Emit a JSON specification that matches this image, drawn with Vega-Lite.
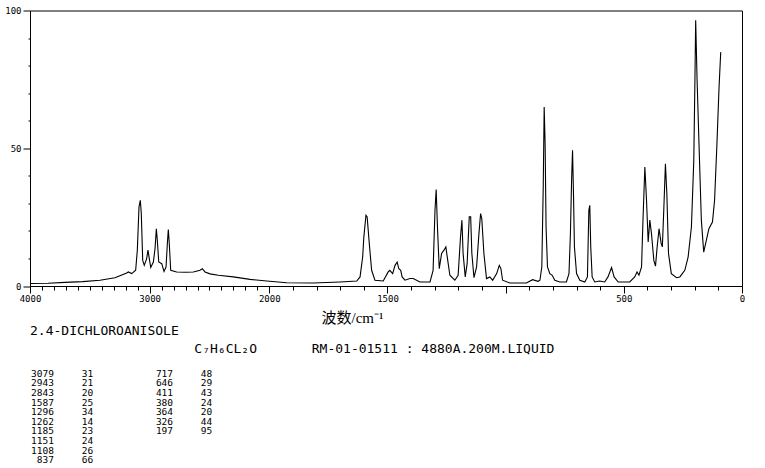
{
  "$schema": "https://vega.github.io/schema/vega-lite/v6.json",
  "background": "white",
  "padding": {"left": 4, "top": 5.5, "right": 5, "bottom": 0},
  "bounds": "flush",
  "spacing": 80.5,
  "config": {
    "view": {"stroke": "black", "strokeWidth": 1},
    "axis": {"grid": false, "domainColor": "black", "tickColor": "black", "labelColor": "black", "titleColor": "black", "labelFont": "DejaVu Sans Mono", "labelFontSize": 9, "labelFlush": false, "labelOverlap": false, "domainWidth": 1, "tickWidth": 1}
  },
  "vconcat": [
    {
      "width": 712,
      "height": 275.5,
      "data": {"values": [
        {"wn":4000,"v":0.9},{"wn":3850,"v":1.0},{"wn":3707,"v":1.3},{"wn":3560,"v":1.6},{"wn":3415,"v":2.1},{"wn":3290,"v":3.0},{"wn":3192,"v":4.7},{"wn":3178,"v":5.1},{"wn":3150,"v":4.5},{"wn":3117,"v":5.7},{"wn":3103,"v":13.0},{"wn":3089,"v":28.7},{"wn":3078,"v":31.1},{"wn":3070,"v":26.4},{"wn":3058,"v":9.3},{"wn":3045,"v":7.5},{"wn":3025,"v":9.9},{"wn":3014,"v":13.0},{"wn":3005,"v":10.5},{"wn":2991,"v":6.7},{"wn":2969,"v":8.7},{"wn":2955,"v":13.6},{"wn":2944,"v":20.8},{"wn":2936,"v":16.6},{"wn":2924,"v":8.7},{"wn":2899,"v":8.1},{"wn":2880,"v":5.3},{"wn":2863,"v":6.9},{"wn":2852,"v":15.4},{"wn":2844,"v":20.5},{"wn":2836,"v":15.4},{"wn":2824,"v":5.7},{"wn":2774,"v":5.1},{"wn":2700,"v":5.0},{"wn":2635,"v":5.1},{"wn":2579,"v":5.7},{"wn":2560,"v":6.3},{"wn":2537,"v":5.1},{"wn":2496,"v":4.4},{"wn":2426,"v":3.9},{"wn":2301,"v":3.3},{"wn":2161,"v":2.4},{"wn":2022,"v":1.8},{"wn":1926,"v":1.2},{"wn":1814,"v":1.1},{"wn":1701,"v":1.45},{"wn":1630,"v":1.8},{"wn":1616,"v":3.3},{"wn":1605,"v":10.5},{"wn":1600,"v":17.8},{"wn":1591,"v":25.7},{"wn":1586,"v":25.1},{"wn":1577,"v":15.4},{"wn":1567,"v":5.7},{"wn":1553,"v":2.1},{"wn":1518,"v":1.8},{"wn":1497,"v":5.1},{"wn":1490,"v":5.7},{"wn":1478,"v":4.5},{"wn":1468,"v":7.5},{"wn":1459,"v":8.7},{"wn":1452,"v":6.3},{"wn":1444,"v":5.7},{"wn":1438,"v":3.3},{"wn":1426,"v":2.1},{"wn":1405,"v":2.7},{"wn":1391,"v":2.7},{"wn":1363,"v":1.45},{"wn":1320,"v":1.45},{"wn":1307,"v":5.7},{"wn":1299,"v":27.5},{"wn":1294,"v":35.0},{"wn":1288,"v":20.2},{"wn":1281,"v":6.3},{"wn":1271,"v":11.8},{"wn":1261,"v":13.0},{"wn":1253,"v":14.2},{"wn":1247,"v":10.5},{"wn":1236,"v":3.9},{"wn":1215,"v":2.1},{"wn":1201,"v":3.9},{"wn":1191,"v":17.8},{"wn":1185,"v":23.9},{"wn":1180,"v":11.8},{"wn":1171,"v":3.3},{"wn":1163,"v":8.1},{"wn":1154,"v":25.1},{"wn":1148,"v":25.1},{"wn":1143,"v":11.8},{"wn":1134,"v":3.0},{"wn":1123,"v":6.9},{"wn":1113,"v":19.0},{"wn":1106,"v":26.3},{"wn":1101,"v":24.5},{"wn":1092,"v":11.8},{"wn":1081,"v":2.7},{"wn":1067,"v":3.3},{"wn":1055,"v":2.1},{"wn":1038,"v":4.5},{"wn":1027,"v":7.5},{"wn":1020,"v":6.3},{"wn":1013,"v":2.1},{"wn":982,"v":1.1},{"wn":912,"v":1.1},{"wn":886,"v":2.3},{"wn":863,"v":1.7},{"wn":855,"v":2.1},{"wn":847,"v":6.9},{"wn":841,"v":35.9},{"wn":837,"v":65.0},{"wn":833,"v":51.7},{"wn":829,"v":21.4},{"wn":823,"v":6.9},{"wn":813,"v":4.5},{"wn":803,"v":3.9},{"wn":792,"v":2.1},{"wn":771,"v":1.45},{"wn":743,"v":1.45},{"wn":732,"v":4.5},{"wn":726,"v":19.0},{"wn":721,"v":38.4},{"wn":717,"v":49.3},{"wn":713,"v":33.6},{"wn":709,"v":14.2},{"wn":700,"v":4.5},{"wn":686,"v":2.1},{"wn":665,"v":1.45},{"wn":654,"v":3.3},{"wn":648,"v":27.5},{"wn":644,"v":29.3},{"wn":640,"v":14.2},{"wn":634,"v":3.3},{"wn":623,"v":1.45},{"wn":602,"v":1.8},{"wn":581,"v":1.45},{"wn":567,"v":3.3},{"wn":552,"v":6.7},{"wn":541,"v":3.3},{"wn":524,"v":1.45},{"wn":475,"v":1.45},{"wn":454,"v":3.3},{"wn":444,"v":5.1},{"wn":436,"v":3.9},{"wn":425,"v":6.9},{"wn":419,"v":23.9},{"wn":411,"v":43.2},{"wn":404,"v":31.1},{"wn":397,"v":16.0},{"wn":390,"v":23.9},{"wn":383,"v":19.0},{"wn":373,"v":9.3},{"wn":366,"v":7.2},{"wn":359,"v":14.2},{"wn":351,"v":20.8},{"wn":342,"v":15.4},{"wn":337,"v":14.2},{"wn":331,"v":27.5},{"wn":324,"v":44.4},{"wn":318,"v":33.6},{"wn":311,"v":11.8},{"wn":299,"v":4.5},{"wn":277,"v":3.0},{"wn":263,"v":3.3},{"wn":242,"v":5.7},{"wn":228,"v":10.5},{"wn":214,"v":21.4},{"wn":204,"v":45.6},{"wn":199,"v":75.9},{"wn":196,"v":96.5},{"wn":190,"v":74.7},{"wn":182,"v":51.7},{"wn":172,"v":23.9},{"wn":162,"v":12.3},{"wn":151,"v":16.6},{"wn":140,"v":20.8},{"wn":125,"v":23.2},{"wn":116,"v":31.1},{"wn":106,"v":51.7},{"wn":97,"v":72.3},{"wn":90,"v":84.9}
      ]},
      "mark": {"type": "line", "color": "black", "strokeWidth": 1.1, "interpolate": "linear"},
      "encoding": {
        "x": {
          "field": "wn", "type": "quantitative",
          "scale": {"domain": [4000, 2000, 0], "range": [0, 239.3, 712], "nice": false, "zero": false},
          "axis": {
            "values": [4000,3900,3800,3700,3600,3500,3400,3300,3200,3100,3000,2900,2800,2700,2600,2500,2400,2300,2200,2100,2000,1900,1800,1700,1600,1500,1400,1300,1200,1100,1000,900,800,700,600,500,400,300,200,100,0],
            "format": "d",
            "labelExpr": "indexof([4000,3000,2000,1500,500,0], datum.value) >= 0 ? datum.label : ''",
            "tickSize": {"condition": {"test": "indexof([4000,3000,2000,1500,1000,500,0], datum.value) >= 0", "value": 7}, "value": 4},
            "labelPadding": 1,
            "title": "波数/cm⁻¹",
            "titleFont": "Liberation Serif, Noto Sans CJK SC",
            "titleFontSize": 15,
            "titleFontWeight": "normal",
            "titleX": 322,
            "titleY": 36,
            "titleBaseline": "alphabetic",
            "titleAlign": "center"
          }
        },
        "y": {
          "field": "v", "type": "quantitative",
          "scale": {"domain": [0, 100], "nice": false, "zero": false},
          "axis": {
            "values": [0,10,20,30,40,50,60,70,80,90,100],
            "labelExpr": "datum.value % 50 === 0 ? datum.label : ''",
            "tickSize": {"condition": {"test": "datum.value % 50 === 0", "value": 7}, "value": 2},
            "labelPadding": 2,
            "title": null
          }
        }
      }
    },
    {
      "width": 712,
      "height": 102,
      "view": {"stroke": null},
      "title": {
        "text": "2.4-DICHLOROANISOLE",
        "subtitle": "\u200b\u00a0\u00a0\u00a0\u00a0\u00a0\u00a0\u00a0\u00a0\u00a0\u00a0\u00a0\u00a0\u00a0\u00a0\u00a0\u00a0\u00a0\u00a0\u00a0\u00a0\u00a0C₇H₆CL₂O\u00a0\u00a0\u00a0\u00a0\u00a0\u00a0\u00a0RM-01-01511 : 4880A.200M.LIQUID",
        "anchor": "start",
        "frame": "group",
        "font": "DejaVu Sans Mono",
        "fontSize": 13,
        "fontWeight": "normal",
        "color": "black",
        "subtitleFont": "DejaVu Sans Mono",
        "subtitleFontSize": 13,
        "subtitleColor": "black",
        "subtitlePadding": 5,
        "offset": 11
      },
      "data": {"values": [
        {"block":0,"line":0,"wn":"3079","int":"31"},
        {"block":0,"line":1,"wn":"2943","int":"21"},
        {"block":0,"line":2,"wn":"2843","int":"20"},
        {"block":0,"line":3,"wn":"1587","int":"25"},
        {"block":0,"line":4,"wn":"1296","int":"34"},
        {"block":0,"line":5,"wn":"1262","int":"14"},
        {"block":0,"line":6,"wn":"1185","int":"23"},
        {"block":0,"line":7,"wn":"1151","int":"24"},
        {"block":0,"line":8,"wn":"1108","int":"26"},
        {"block":0,"line":9,"wn":"837","int":"66"},
        {"block":1,"line":0,"wn":"717","int":"48"},
        {"block":1,"line":1,"wn":"646","int":"29"},
        {"block":1,"line":2,"wn":"411","int":"43"},
        {"block":1,"line":3,"wn":"380","int":"24"},
        {"block":1,"line":4,"wn":"364","int":"20"},
        {"block":1,"line":5,"wn":"326","int":"44"},
        {"block":1,"line":6,"wn":"197","int":"95"}
      ]},
      "encoding": {
        "x": {"field": "block", "type": "quantitative", "scale": {"domain": [0, 5.98], "nice": false, "zero": false}, "axis": null},
        "y": {"field": "line", "type": "quantitative", "scale": {"domain": [-0.7, 9.9], "reverse": true, "nice": false, "zero": false}, "axis": null}
      },
      "layer": [
        {"mark": {"type": "text", "align": "right", "baseline": "middle", "dx": 24, "font": "DejaVu Sans Mono", "fontSize": 9.5, "color": "black"},
         "encoding": {"text": {"field": "wn"}}},
        {"mark": {"type": "text", "align": "left", "baseline": "middle", "dx": 51.7, "font": "DejaVu Sans Mono", "fontSize": 9.5, "color": "black"},
         "encoding": {"text": {"field": "int"}}}
      ]
    }
  ]
}
